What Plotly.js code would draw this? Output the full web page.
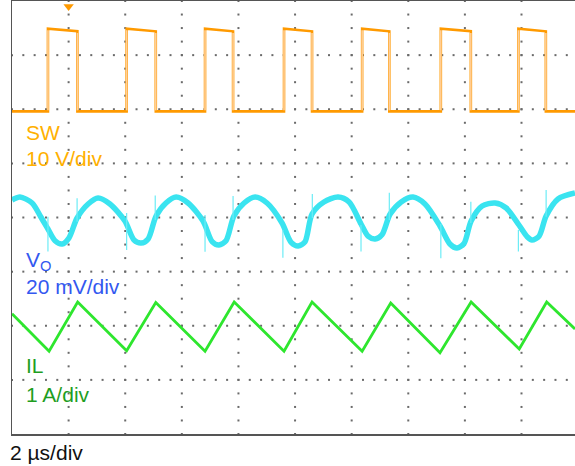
<!DOCTYPE html>
<html>
<head>
<meta charset="utf-8">
<script src="https://cdn.plot.ly/plotly-3.0.1.min.js"></script>
<style>html,body{margin:0;padding:0;background:#fff;}#chart{width:575px;height:466px;}</style>
</head>
<body>
<div id="chart"></div>
<script>
// ---------- data ----------
// time axis: 2 µs/div
// SW node (10 V/div)
const swRiseUs = [1.27, 4.05, 6.82, 9.61, 12.37, 15.15, 17.89];
const swFallUs = [2.31, 5.08, 7.81, 10.60, 13.33, 16.21, 18.86];
const swHighStartV = [15.3, 15.3, 15.3, 15.3, 15.3, 15.3, 15.3];
const swHighEndV   = [14.8, 14.8, 14.8, 14.8, 14.8, 14.8, 14.8];
const swLowV = 0;
// Output ripple V_O (20 mV/div, AC)
const voTimeUs = [0.00, 0.28, 0.71, 1.02, 1.27, 1.52, 1.77, 2.01, 2.30, 2.69, 3.04, 3.46, 3.99, 4.31, 4.56, 4.81, 5.09, 5.44, 5.80, 6.22, 6.75, 7.07, 7.31, 7.56, 7.84, 8.20, 8.59, 9.01, 9.54, 9.86, 10.11, 10.35, 10.60, 11.02, 11.52, 11.91, 12.33, 12.58, 12.83, 13.07, 13.36, 13.75, 14.17, 14.59, 15.12, 15.48, 15.72, 15.97, 16.22, 16.61, 17.07, 17.46, 17.91, 18.20, 18.37, 18.62, 18.87, 19.29, 19.89];
const voMilliV = [6.47, 7.57, 5.36, 0.18, -4.25, -8.6, -9.79, -7.6, -0.18, 4.99, 7.21, 4.99, -1.29, -8.3, -9.42, -7.9, 0.55, 5.36, 7.57, 5.36, -1.29, -8.9, -10.16, -8.6, 0.55, 5.36, 7.57, 5.36, -2.03, -9.2, -10.53, -9.0, 1.29, 5.73, 7.57, 5.73, -2.40, -6.9, -7.94, -6.4, 1.29, 5.73, 7.57, 4.99, -3.14, -9.9, -11.27, -9.6, -1.29, 4.25, 5.36, 3.51, -2.77, -7.1, -8.31, -6.9, 0.55, 6.84, 9.05];
// switching spikes on V_O
const spikeTimeUs = [1.27, 2.30, 4.05, 5.06, 6.82, 7.81, 9.57, 10.61, 12.33, 13.33, 15.15, 16.21, 17.89, 18.87];
const spikeTopMv  = [0.3, 7.1, 1.7, 8.1, 0.9, 7.9, -4.6, 8.7, -2.8, 9.1, -2.4, 5.8, -4.6, 10.2];
const spikeLowMv  = [-12.6, -1.6, -12.0, -0.9, -12.7, -0.9, -14.9, -0.2, -12.6, -0.9, -15.1, -2.0, -12.6, 0.3];
// Inductor current IL (1 A/div, AC)
const ilTimeUs = [0, 1.31, 2.32, 4.05, 5.08, 6.82, 7.85, 9.61, 10.60, 12.37, 13.38, 15.12, 16.22, 17.92, 18.89, 19.89];
const ilAmps   = [0.22, -0.47, 0.44, -0.46, 0.43, -0.47, 0.44, -0.47, 0.44, -0.47, 0.42, -0.50, 0.44, -0.43, 0.44, -0.06];
// labels
const chLabels = ["SW", "10 V/div", "V<sub>O</sub>", "20 mV/div", "IL", "1 A/div"];
const timebaseLabel = "2 \u00b5s/div";
const triggerUs = 2;

// ---------- channel / screen settings ----------
const swPos = 5.96, swScale = 10;   // div, V/div
const voPos = 4.0, voScale = 20;    // div, mV/div
const ilPos = 2.0, ilScale = 1;     // div, A/div
const xEnd = 19.89, usPerDiv = 2, nDivY = 8;

// build SW trace
const swX = [0], swY = [swPos + swLowV / swScale];
const edgeX = [], edgeY = [];
for (let i = 0; i < swRiseUs.length; i++) {
  const lo = swPos + swLowV / swScale;
  const hs = swPos + swHighStartV[i] / swScale;
  const he = swPos + swHighEndV[i] / swScale;
  swX.push(swRiseUs[i], swRiseUs[i], swFallUs[i], swFallUs[i]);
  swY.push(lo, hs, he, lo);
  edgeX.push(swRiseUs[i], swRiseUs[i], null, swFallUs[i], swFallUs[i], null);
  edgeY.push(lo + 0.02, hs - 0.03, null, he - 0.03, lo + 0.02, null);
}
swX.push(xEnd); swY.push(swPos + swLowV / swScale);

const spX = [], spY = [];
for (let i = 0; i < spikeTimeUs.length; i++) {
  spX.push(spikeTimeUs[i], spikeTimeUs[i], null);
  spY.push(voPos + spikeTopMv[i] / voScale, voPos + spikeLowMv[i] / voScale, null);
}

// dotted graticule (scope style): dots along each division line
const gX = [], gY = [];
for (let k = 1; k * usPerDiv < xEnd; k++) {
  for (let j = 0; j <= nDivY * 4; j++) { gX.push(k * usPerDiv); gY.push(j / 4); }
}
for (let r = 1; r < nDivY; r++) {
  for (let j = 0; j * usPerDiv / 5 <= xEnd; j++) { gX.push(j * usPerDiv / 5); gY.push(r); }
}

const traces = [
  {x: gX, y: gY, mode: 'markers', marker: {symbol: 'square', size: 2, color: '#6a6a6a', line: {width: 0}}, hoverinfo: 'skip'},
  {x: swX, y: swY, mode: 'lines', line: {color: '#ff9a00', width: 2.6}, hoverinfo: 'skip'},
  {x: edgeX, y: edgeY, mode: 'lines', line: {color: '#ffcf98', width: 1.6}, hoverinfo: 'skip'},
  {x: voTimeUs, y: voMilliV.map(v => voPos + v / voScale), mode: 'lines',
   line: {color: '#3ae4f0', width: 5.5, shape: 'spline', smoothing: 0.8}, hoverinfo: 'skip'},
  {x: spX, y: spY, mode: 'lines', line: {color: '#6cecf6', width: 1.2}, hoverinfo: 'skip'},
  {x: ilTimeUs, y: ilAmps.map(a => ilPos + a / ilScale), mode: 'lines',
   line: {color: '#2ee62e', width: 2.8}, hoverinfo: 'skip'},
  {x: [triggerUs], y: [7.9], mode: 'markers', cliponaxis: false,
   marker: {symbol: 'triangle-down', size: 9, color: '#ff9a00'}, hoverinfo: 'skip'}
];

const F = 'Liberation Sans, Arial, Helvetica, sans-serif';
const W = 575, H = 466, L = 12, T = 1, B = 32;
const pw = W - L, ph = H - T - B;
const px = x => (x - L) / pw;
const py = y => 1 - (y - T) / ph;
const lab = (text, x, y, color) => ({text: text, xref: 'paper', yref: 'paper', x: px(x), y: py(y),
  xanchor: 'left', yanchor: 'middle', showarrow: false, font: {family: F, size: 21, color: color}});

const layout = {
  width: W, height: H,
  margin: {l: L, r: 0, t: T, b: B, autoexpand: false},
  paper_bgcolor: '#fff', plot_bgcolor: '#fff',
  showlegend: false,
  xaxis: {range: [0, xEnd], showgrid: false, zeroline: false, showticklabels: false, ticks: '',
    showline: true, mirror: true, linecolor: '#555', linewidth: 1.5, fixedrange: true},
  yaxis: {range: [0, nDivY], showgrid: false, zeroline: false, showticklabels: false, ticks: '',
    showline: true, mirror: false, linecolor: '#555', linewidth: 1.5, fixedrange: true},
  annotations: [
    lab(chLabels[0], 24, 133, '#ffb000'),
    lab(chLabels[1], 24, 158, '#ffb000'),
    lab(chLabels[2], 24, 261, '#3358f0'),
    lab(chLabels[3], 24, 286, '#3358f0'),
    lab(chLabels[4], 24, 365, '#1f9e1f'),
    lab(chLabels[5], 24, 394, '#1f9e1f'),
    {text: timebaseLabel, xref: 'paper', yref: 'paper', x: px(8), y: py(452), xanchor: 'left', yanchor: 'middle',
     showarrow: false, font: {family: F, size: 21, color: '#111'}}
  ]
};

Plotly.newPlot('chart', traces, layout, {displayModeBar: false, staticPlot: true});
</script>
</body>
</html>
